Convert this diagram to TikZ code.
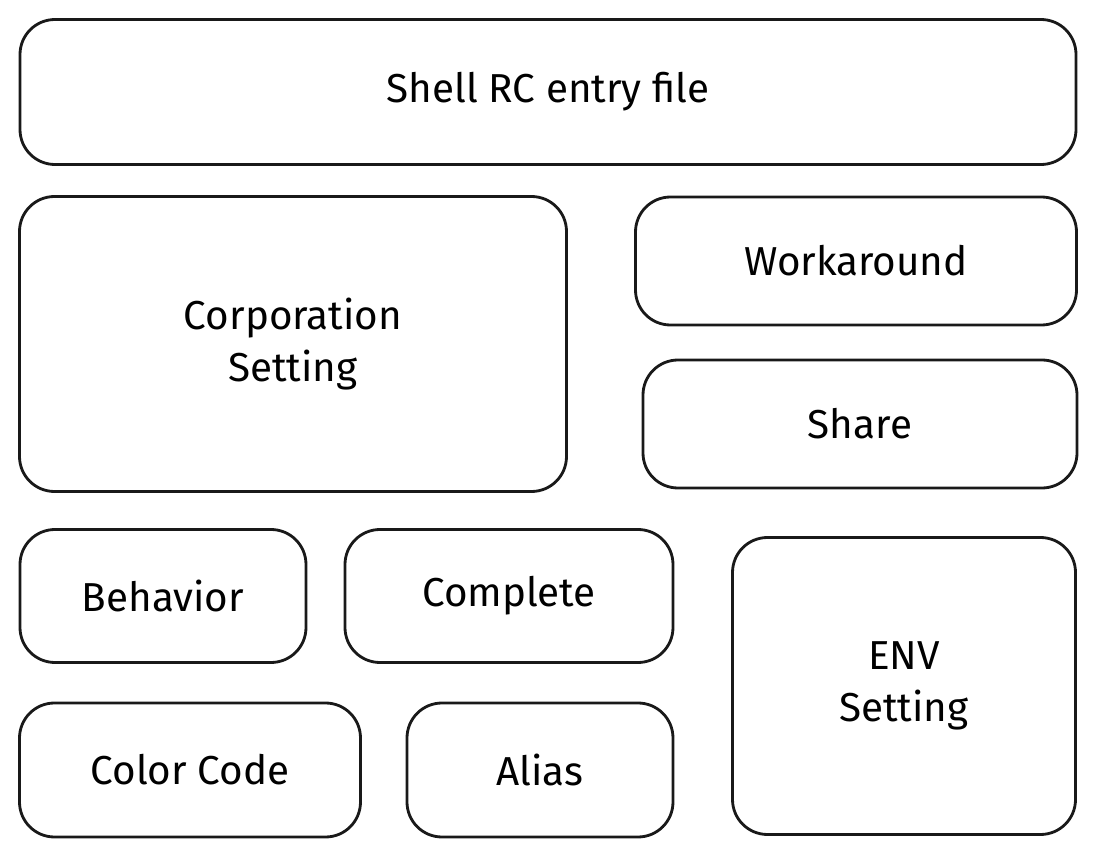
\documentclass[tikz,border=0pt]{standalone}
\usepackage{fontspec}
\setmainfont{Fira Sans}
\begin{document}
\begin{tikzpicture}[x=0.02cm,y=-0.02cm,
  box/.style={draw=black!90,line width=1.6pt,rounded corners=0.7cm,align=center,
    font=\fontsize{23}{30}\selectfont,inner sep=0pt}]
\useasboundingbox (0,0) rectangle (1096,858);
\node[box,minimum width=1056*0.02cm,minimum height=145*0.02cm] (rc) at (548,92) {Shell RC entry file};
\node[box,minimum width=547*0.02cm,minimum height=295*0.02cm] (corp) at (293,344) {Corporation\\Setting};
\node[box,minimum width=441*0.02cm,minimum height=128*0.02cm] (work) at (856,261) {Workaround};
\node[box,minimum width=434*0.02cm,minimum height=128*0.02cm] (share) at (860,424) {Share};
\node[box,minimum width=286*0.02cm,minimum height=133*0.02cm] (beh) at (163,596) {Behavior};
\node[box,minimum width=328*0.02cm,minimum height=133*0.02cm] (comp) at (509,596) {Complete};
\node[box,minimum width=343*0.02cm,minimum height=297*0.02cm] (env) at (904,686) {ENV\\Setting};
\node[box,minimum width=341*0.02cm,minimum height=134*0.02cm] (color) at (190,770) {Color Code};
\node[box,minimum width=266*0.02cm,minimum height=134*0.02cm] (alias) at (540,770) {Alias};
\end{tikzpicture}
\end{document}
